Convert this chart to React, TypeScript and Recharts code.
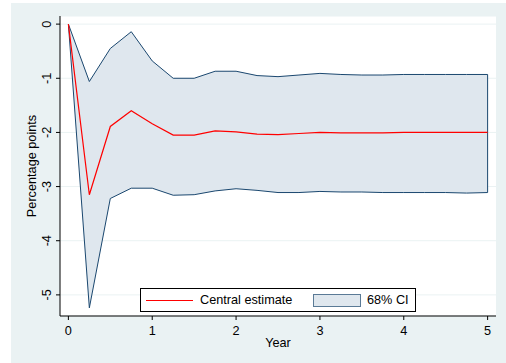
import React from 'react';
import { ComposedChart, Area, Line, XAxis, YAxis, CartesianGrid, ReferenceLine } from 'recharts';

// quarterly horizon, in years
const years = [0, 0.25, 0.5, 0.75, 1, 1.25, 1.5, 1.75, 2, 2.25, 2.5, 2.75, 3, 3.25, 3.5, 3.75, 4, 4.25, 4.5, 4.75, 5];
const central = [0, -3.15, -1.89, -1.6, -1.84, -2.05, -2.05, -1.97, -1.99, -2.03, -2.04, -2.02, -2.0, -2.01, -2.01, -2.01, -2.0, -2.0, -2.0, -2.0, -2.0];
const upper = [0, -1.06, -0.45, -0.14, -0.68, -1.0, -1.0, -0.87, -0.87, -0.95, -0.97, -0.94, -0.91, -0.93, -0.94, -0.94, -0.93, -0.93, -0.93, -0.93, -0.93];
const lower = [0, -5.24, -3.22, -3.03, -3.03, -3.16, -3.15, -3.08, -3.04, -3.07, -3.11, -3.11, -3.09, -3.1, -3.1, -3.11, -3.11, -3.11, -3.11, -3.12, -3.11];

const xTicks = [0, 1, 2, 3, 4, 5];
const yTicks = [0, -1, -2, -3, -4, -5];

const data = years.map((year, i) => ({
  year,
  central: central[i],
  band: [lower[i], upper[i]],
}));

const FONT = '"Liberation Sans", Arial, sans-serif';
const FS = 12.7;
const NAVY = '#1a476f';
const BAND = '#dfe7ee';

const YTick = (props: any) => {
  const { x, y, payload } = props;
  const cx = x - 7;
  return (
    <text
      x={cx}
      y={y}
      transform={`rotate(-90, ${cx}, ${y})`}
      textAnchor="middle"
      dominantBaseline="central"
      fontSize={FS}
      fill="#000"
      fontFamily={FONT}
    >
      {payload.value}
    </text>
  );
};

const XTick = (props: any) => {
  const { x, y, payload } = props;
  return (
    <text x={x} y={y + 9} textAnchor="middle" dominantBaseline="central" fontSize={FS} fill="#000" fontFamily={FONT}>
      {payload.value}
    </text>
  );
};

const ChartLegend = () => (
  <div
    style={{
      position: 'absolute',
      left: 140,
      top: 288,
      width: 276,
      height: 24,
      boxSizing: 'border-box',
      border: '1px solid #000',
      background: '#fff',
      fontFamily: FONT,
      fontSize: FS,
      lineHeight: '15px',
    }}
  >
    <div style={{ position: 'absolute', left: 5, top: 11, width: 47, height: 1.4, background: '#ff0000' }} />
    <span style={{ position: 'absolute', left: 59, top: 4 }}>Central estimate</span>
    <div
      style={{
        position: 'absolute',
        left: 172,
        top: 5,
        width: 48,
        height: 13,
        boxSizing: 'border-box',
        background: BAND,
        border: '1px solid #5a7a96',
      }}
    />
    <span style={{ position: 'absolute', left: 226, top: 4 }}>68% CI</span>
  </div>
);

export default function App() {
  const last = years.length - 1;
  return (
    <div style={{ position: 'relative', width: 506, height: 363 }}>
      <style>{'body{margin:0}'}</style>
      <div style={{ position: 'absolute', left: 11, top: 3, width: 495, height: 360, background: '#eaf2f3' }} />
      <ComposedChart
        width={506}
        height={363}
        data={data}
        margin={{ top: 16, right: 10, bottom: 0, left: 0 }}
        style={{ position: 'absolute', left: 0, top: 0 }}
      >
        <CartesianGrid horizontal vertical={false} fill="#fff" stroke="#eaf2f3" />
        <XAxis
          type="number"
          dataKey="year"
          domain={[-0.1, 5.1]}
          ticks={xTicks}
          allowDataOverflow
          height={47}
          tickSize={4}
          tickLine={{ stroke: '#000' }}
          axisLine={{ stroke: '#000' }}
          tick={<XTick />}
        />
        <YAxis
          type="number"
          domain={[-5.39, 0.15]}
          ticks={yTicks}
          allowDataOverflow
          width={60}
          tickSize={4}
          tickLine={{ stroke: '#000' }}
          axisLine={{ stroke: '#000' }}
          tick={<YTick />}
        />
        <Area
          type="linear"
          dataKey="band"
          stroke={NAVY}
          strokeWidth={1}
          fill={BAND}
          fillOpacity={1}
          isAnimationActive={false}
        />
        <ReferenceLine
          segment={[
            { x: years[last], y: lower[last] },
            { x: years[last], y: upper[last] },
          ]}
          stroke={NAVY}
          strokeWidth={1}
        />
        <Line
          type="linear"
          dataKey="central"
          stroke="#ff0000"
          strokeWidth={1.2}
          dot={false}
          isAnimationActive={false}
        />
        <text x={278} y={343} textAnchor="middle" dominantBaseline="central" fontSize={FS} fontFamily={FONT} fill="#000">
          Year
        </text>
        <text
          x={32}
          y={166}
          transform="rotate(-90, 32, 166)"
          textAnchor="middle"
          dominantBaseline="central"
          fontSize={FS}
          fontFamily={FONT}
          fill="#000"
        >
          Percentage points
        </text>
      </ComposedChart>
      <ChartLegend />
    </div>
  );
}
